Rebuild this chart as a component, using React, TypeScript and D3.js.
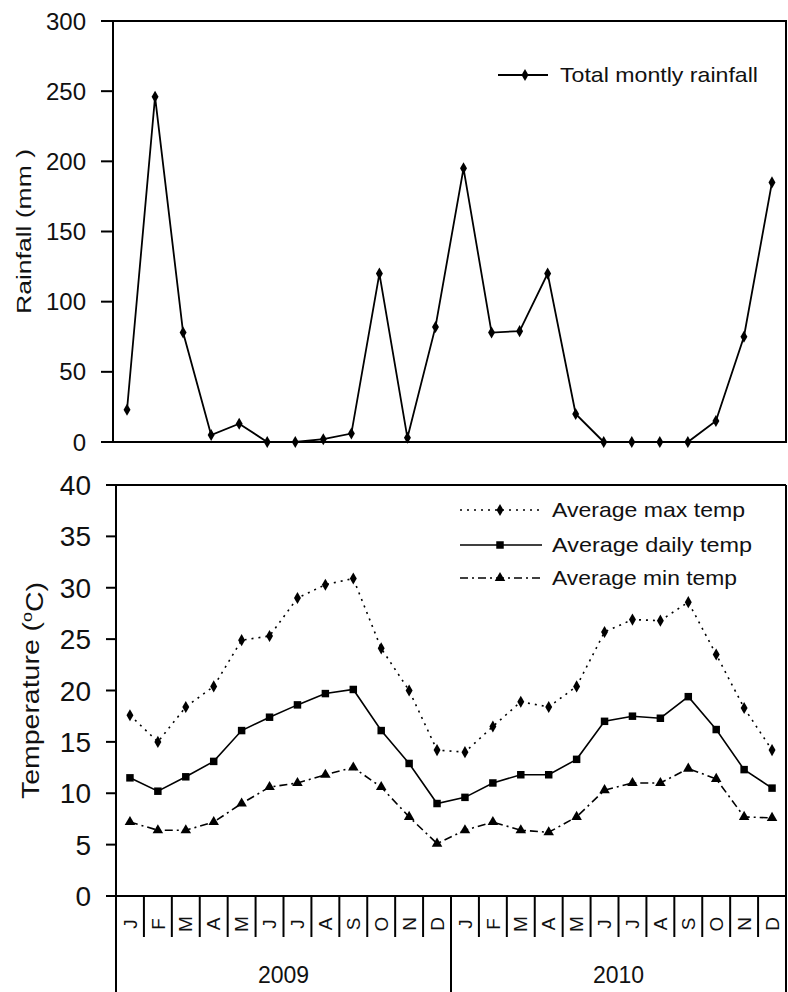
import React from "react";
import * as d3 from "d3";

const monthLetters = ["J","F","M","A","M","J","J","A","S","O","N","D","J","F","M","A","M","J","J","A","S","O","N","D"];
const years = ["2009", "2010"];
const rainfall = [23,246,78,5,13,0,0,2,6,120,3,82,195,78,79,120,20,0,0,0,0,15,75,185];
const maxTemp = [17.6,15.0,18.4,20.4,24.9,25.3,29.0,30.3,30.9,24.1,20.0,14.2,14.0,16.5,18.9,18.4,20.4,25.7,26.9,26.8,28.6,23.5,18.3,14.2];
const dailyTemp = [11.5,10.2,11.6,13.1,16.1,17.4,18.6,19.7,20.1,16.1,12.9,9.0,9.6,11.0,11.8,11.8,13.3,17.0,17.5,17.3,19.4,16.2,12.3,10.5];
const minTemp = [7.2,6.4,6.4,7.2,9.0,10.6,11.0,11.8,12.5,10.6,7.7,5.1,6.4,7.2,6.4,6.2,7.7,10.3,11.0,11.0,12.4,11.4,7.7,7.6];
const rainTicks = [0,50,100,150,200,250,300];
const tempTicks = [0,5,10,15,20,25,30,35,40];

const FONT = "'Liberation Sans', Arial, sans-serif";
const W = 788, H = 992;

export default function App() {
  const idx = d3.range(24);
  const xTop = d3.scaleBand<number>().domain(idx).range([113, 786]);
  const xBot = d3.scaleBand<number>().domain(idx).range([116, 786]);
  const yTop = d3.scaleLinear().domain([0, 300]).range([442, 21]);
  const yBot = d3.scaleLinear().domain([0, 40]).range([896, 485]);
  const cxT = (i: number) => (xTop(i) as number) + xTop.bandwidth() / 2;
  const cxB = (i: number) => (xBot(i) as number) + xBot.bandwidth() / 2;

  const lineTop = d3.line<number>().x((_, i) => cxT(i)).y(d => yTop(d));
  const lineBot = d3.line<number>().x((_, i) => cxB(i)).y(d => yBot(d));

  const diamond = d3.symbol().type(d3.symbolDiamond).size(42)() as string;
  const square = d3.symbol().type(d3.symbolSquare).size(56)() as string;
  const triangle = d3.symbol().type(d3.symbolTriangle).size(48)() as string;

  const series = [
    { name: "Average max temp", data: maxTemp, dash: "2,5", sym: diamond, len: 193 },
    { name: "Average daily temp", data: dailyTemp, dash: "none", sym: square, len: 200 },
    { name: "Average min temp", data: minTemp, dash: "8,4,2,4", sym: triangle, len: 185 },
  ];
  const legendY = [510, 545, 578];

  return (
    <div style={{ position: "absolute", left: 0, top: 0 }}>
      <svg width={W} height={H} style={{ display: "block", background: "#fff" }} fontFamily={FONT}>
        {/* ---------- TOP CHART: rainfall ---------- */}
        <rect x={113} y={21} width={673} height={421} fill="none" stroke="#000" strokeWidth={2} />
        {rainTicks.map(t => (
          <g key={"rt" + t}>
            <line x1={101} x2={113} y1={yTop(t)} y2={yTop(t)} stroke="#000" strokeWidth={2} />
            <text x={86} y={yTop(t)} dy="0.36em" textAnchor="end" fontSize={24} fill="#111">{t}</text>
          </g>
        ))}
        <text transform={`translate(24,${(21 + 442) / 2}) rotate(-90)`} textAnchor="middle" dy="0.35em"
          fontSize={21} textLength={165} lengthAdjust="spacingAndGlyphs" fill="#111">Rainfall (mm )</text>
        <path d={lineTop(rainfall) as string} fill="none" stroke="#000" strokeWidth={1.8} />
        {rainfall.map((v, i) => (
          <path key={"rp" + i} d={diamond} transform={`translate(${cxT(i)},${yTop(v)})`} fill="#000" />
        ))}
        {/* legend top */}
        <line x1={498} x2={548} y1={75} y2={75} stroke="#000" strokeWidth={1.8} />
        <path d={diamond} transform="translate(525,75)" fill="#000" />
        <text x={560} y={75} dy="0.35em" fontSize={21} textLength={198} lengthAdjust="spacingAndGlyphs" fill="#111">Total montly rainfall</text>

        {/* ---------- BOTTOM CHART: temperature ---------- */}
        <line x1={116} x2={786} y1={485} y2={485} stroke="#000" strokeWidth={2} />
        <line x1={116} x2={786} y1={896} y2={896} stroke="#000" strokeWidth={2} />
        <line x1={116} x2={116} y1={485} y2={992} stroke="#000" strokeWidth={2} />
        <line x1={786} x2={786} y1={485} y2={992} stroke="#000" strokeWidth={2} />
        {tempTicks.map(t => (
          <g key={"tt" + t}>
            <line x1={106} x2={116} y1={yBot(t)} y2={yBot(t)} stroke="#000" strokeWidth={2} />
            <text x={91} y={yBot(t)} dy="0.36em" textAnchor="end" fontSize={28} fill="#111">{t}</text>
          </g>
        ))}
        <text transform={`translate(31,${(485 + 896) / 2}) rotate(-90)`} textAnchor="middle" dy="0.35em"
          fontSize={24} fill="#111" textLength={217} lengthAdjust="spacingAndGlyphs">
          Temperature (<tspan fontSize={15} dy="-0.5em">o</tspan><tspan dy="0.45em">C)</tspan>
        </text>
        {series.map(s => (
          <g key={s.name}>
            <path d={lineBot(s.data) as string} fill="none" stroke="#000" strokeWidth={1.6}
              strokeDasharray={s.dash} />
            {s.data.map((v, i) => (
              <path key={i} d={s.sym} transform={`translate(${cxB(i)},${yBot(v)})`} fill="#000" />
            ))}
          </g>
        ))}
        {series.map((s, k) => (
          <g key={"lg" + s.name}>
            <line x1={460} x2={542} y1={legendY[k]} y2={legendY[k]} stroke="#000" strokeWidth={1.6}
              strokeDasharray={s.dash} />
            <path d={s.sym} transform={`translate(500,${legendY[k]})`} fill="#000" />
            <text x={552} y={legendY[k]} dy="0.35em" fontSize={21} textLength={s.len}
              lengthAdjust="spacingAndGlyphs" fill="#111">{s.name}</text>
          </g>
        ))}
        {/* category axis */}
        {d3.range(25).map(i => {
          const x = i === 24 ? 786 : (xBot(i) as number);
          const long = i === 0 || i === 12 || i === 24;
          return <line key={"sep" + i} x1={x} x2={x} y1={896} y2={long ? 992 : 937} stroke="#000" strokeWidth={2} />;
        })}
        {monthLetters.map((m, i) => (
          <text key={"ml" + i} transform={`translate(${cxB(i)},924) rotate(-90)`} textAnchor="middle" dy="0.35em"
            fontSize={19} fill="#111">{m}</text>
        ))}
        {years.map((y, k) => (
          <text key={y} x={((xBot(k * 12) as number) + (k === 0 ? (xBot(12) as number) : 786)) / 2} y={975}
            dy="0.35em" textAnchor="middle" fontSize={23} fill="#111">{y}</text>
        ))}
      </svg>
    </div>
  );
}
